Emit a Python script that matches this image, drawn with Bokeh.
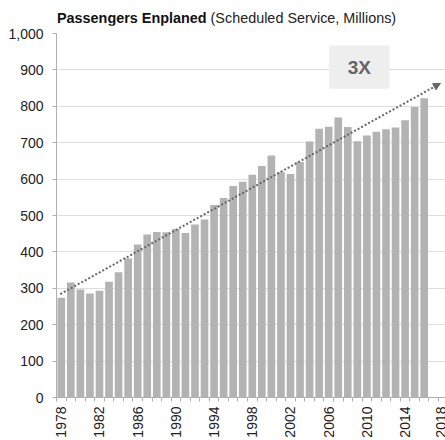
from bokeh.plotting import figure
from bokeh.models import (FixedTicker, NumeralTickFormatter, Range1d, Label,
                          BoxAnnotation, Arrow, NormalHead, Div)
from bokeh.layouts import column
from bokeh.embed import file_html
from bokeh.resources import INLINE
import math

# ---- data ----
years = list(range(1978, 2017))
passengers = [274, 316, 297, 286, 293, 318, 344, 382, 420, 448,
              455, 454, 463, 452, 475, 489, 529, 548, 581, 593,
              612, 636, 665, 619, 614, 647, 703, 738, 744, 769,
              743, 704, 720, 730, 737, 742, 762, 798, 822]
label_years = [1978, 1982, 1986, 1990, 1994, 1998, 2002, 2006, 2010, 2014, 2018]
y_ticks = [0, 100, 200, 300, 400, 500, 600, 700, 800, 900, 1000]
trend_x = [1977.9, 2017.7]
trend_y = [284, 863]
title_bold = "Passengers Enplaned"
title_rest = "(Scheduled Service, Millions)"
callout = "3X"

FONT = "Liberation Sans"

title = Div(
    text=('<div style="position:absolute;left:57px;top:8px;white-space:nowrap;'
          'font-family:\'Liberation Sans\',Arial,sans-serif;font-size:14.4px;color:#222222;">'
          '<span style="font-weight:bold;color:#111111;">%s</span> %s</div>'
          % (title_bold, title_rest)),
    width=445, height=25, margin=(0, 0, 0, 0),
    styles={"overflow": "visible"})

p = figure(width=445, height=415, output_backend="svg", toolbar_location=None,
           x_range=Range1d(1977.5, 2018.23), y_range=Range1d(0, 1000),
           min_border_left=56, min_border_right=0, min_border_top=8,
           min_border_bottom=40, margin=(0, 0, 0, 0))
p.outline_line_color = None
p.background_fill_color = "white"
p.border_fill_color = "white"

p.vbar(x=years, top=passengers, width=0.8, fill_color="#b3b3b3", line_color=None)

# axes
p.xaxis.ticker = FixedTicker(ticks=label_years,
                             minor_ticks=[y - 0.5 for y in range(1978, 2020)])
p.xaxis.major_label_orientation = math.pi / 2
p.xaxis.major_tick_line_color = None
p.xaxis.minor_tick_line_color = "#b0b0b0"
p.xaxis.minor_tick_out = 4
p.xaxis.minor_tick_in = 0
p.xaxis.axis_line_color = "#b0b0b0"
p.xaxis.major_label_standoff = 3

p.yaxis.ticker = FixedTicker(ticks=y_ticks)
p.yaxis.formatter = NumeralTickFormatter(format="0,0")
p.yaxis.major_tick_line_color = "#b0b0b0"
p.yaxis.major_tick_out = 4
p.yaxis.major_tick_in = 0
p.yaxis.minor_tick_line_color = None
p.yaxis.axis_line_color = "#b0b0b0"
p.yaxis.major_label_standoff = 9

for ax in (p.xaxis, p.yaxis):
    ax.major_label_text_font = FONT
    ax.major_label_text_font_size = "14px"
    ax.major_label_text_color = "#222222"

p.xgrid.grid_line_color = None
p.ygrid.grid_line_color = "#dedede"
p.ygrid.ticker = FixedTicker(ticks=y_ticks)

# trend arrow
p.add_layout(Arrow(end=NormalHead(size=7, fill_color="#666666", line_color="#666666"),
                   x_start=trend_x[0], y_start=trend_y[0],
                   x_end=trend_x[1], y_end=trend_y[1],
                   line_color="#666666", line_width=2, line_dash="2 2"))

# callout box
p.add_layout(BoxAnnotation(left=2006.06, right=2012.35, bottom=848, top=967,
                           fill_color="#eeeeee", fill_alpha=1, line_color=None,
                           level="annotation"))
p.add_layout(Label(x=2009.2, y=907, text=callout, text_align="center",
                   text_baseline="middle", text_font=FONT, text_font_size="19px",
                   text_font_style="bold", text_color="#666666", level="overlay"))

layout = column(title, p, spacing=0, margin=(0, 0, 0, 0))
open("out.html", "w").write(file_html(layout, INLINE))
